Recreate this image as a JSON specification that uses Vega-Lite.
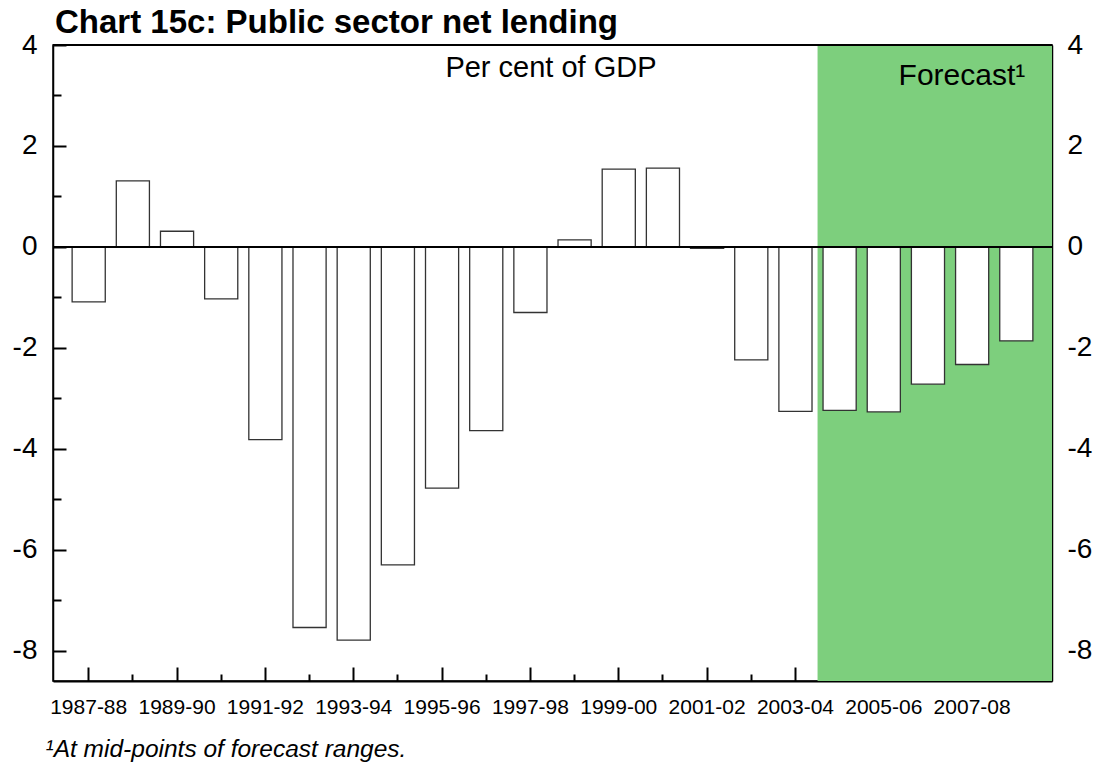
{
  "$schema": "https://vega.github.io/schema/vega-lite/v6.json",
  "width": 999,
  "height": 636,
  "autosize": "none",
  "padding": {"left": 53, "top": 45, "right": 57, "bottom": 83},
  "background": "white",
  "title": {
    "text": "Chart 15c: Public sector net lending",
    "anchor": "start",
    "frame": "group",
    "font": "Liberation Sans",
    "fontSize": 33,
    "fontWeight": "bold",
    "color": "black",
    "baseline": "alphabetic",
    "offset": 8,
    "dx": 2,
    "dy": 43
  },
  "config": {
    "view": {"stroke": "black", "strokeWidth": 1.5},
    "font": "Liberation Sans",
    "axis": {"grid": false, "zindex": 1, "domainColor": "black", "tickColor": "black", "labelColor": "black", "labelFont": "Liberation Sans", "titleFont": "Liberation Sans", "titleColor": "black"}
  },
  "data": {
    "values": [
      {"year": "1987-88", "value": -1.09},
      {"year": "1988-89", "value": 1.31},
      {"year": "1989-90", "value": 0.31},
      {"year": "1990-91", "value": -1.03},
      {"year": "1991-92", "value": -3.82},
      {"year": "1992-93", "value": -7.54},
      {"year": "1993-94", "value": -7.79},
      {"year": "1994-95", "value": -6.30},
      {"year": "1995-96", "value": -4.78},
      {"year": "1996-97", "value": -3.64},
      {"year": "1997-98", "value": -1.30},
      {"year": "1998-99", "value": 0.14},
      {"year": "1999-00", "value": 1.54},
      {"year": "2000-01", "value": 1.56},
      {"year": "2001-02", "value": -0.03},
      {"year": "2002-03", "value": -2.24},
      {"year": "2003-04", "value": -3.26},
      {"year": "2004-05", "value": -3.24},
      {"year": "2005-06", "value": -3.27},
      {"year": "2006-07", "value": -2.72},
      {"year": "2007-08", "value": -2.33},
      {"year": "2008-09", "value": -1.86}
    ]
  },
  "resolve": {"axis": {"x": "independent", "y": "independent"}},
  "layer": [
    {
      "data": {"values": [{"label": "forecast"}]},
      "mark": {"type": "rect", "color": "#7dcf7d"},
      "encoding": {
        "x": {"datum": "2004-05", "type": "ordinal", "bandPosition": -0.166, "axis": null,
              "scale": {"domain": ["1987-88","1988-89","1989-90","1990-91","1991-92","1992-93","1993-94","1994-95","1995-96","1996-97","1997-98","1998-99","1999-00","2000-01","2001-02","2002-03","2003-04","2004-05","2005-06","2006-07","2007-08","2008-09"], "paddingInner": 0.25, "paddingOuter": 0.433}},
        "x2": {"value": {"expr": "width"}},
        "y": {"datum": 4, "type": "quantitative", "axis": null, "scale": {"domain": [-8.6, 4], "nice": false, "zero": false}},
        "y2": {"datum": -8.6}
      }
    },
    {
      "mark": {"type": "bar", "fill": "white", "stroke": "#333333", "strokeWidth": 1.3},
      "encoding": {
        "x": {"field": "year", "type": "ordinal", "sort": null,
              "axis": {"orient": "bottom", "title": "¹At mid-points of forecast ranges.", "titleFontStyle": "italic", "titleFontWeight": "normal", "titleFontSize": 24.5, "titleAnchor": "start", "titleAlign": "left", "titleBaseline": "alphabetic", "titleX": -8, "titleY": 75,
                       "domainWidth": 2, "tickWidth": 2, "labelFontSize": 21, "labelAngle": 0, "labelPadding": 29,
                       "labelExpr": "toNumber(substring(datum.value,0,4)) % 2 == 1 ? datum.label : ''",
                       "tickSize": {"condition": {"test": "toNumber(substring(datum.value,0,4)) % 2 == 1", "value": -14}, "value": -7}}},
        "y": {"field": "value", "type": "quantitative",
              "axis": {"orient": "left", "title": null, "values": [-8,-7,-6,-5,-4,-3,-2,-1,0,1,2,3,4], "domainWidth": 1.5, "tickWidth": 2, "labelFontSize": 28, "labelPadding": 29,
                       "labelExpr": "datum.value % 2 == 0 ? toString(datum.value) : ''",
                       "tickSize": {"condition": {"test": "datum.value % 2 == 0", "value": -13}, "value": -8}}}
      }
    },
    {
      "data": {"values": [{"label": "zero"}]},
      "mark": {"type": "rule", "color": "black", "strokeWidth": 2},
      "encoding": {
        "y": {"datum": 0, "type": "quantitative",
              "axis": {"orient": "right", "title": null, "values": [-8,-7,-6,-5,-4,-3,-2,-1,0,1,2,3,4], "domainWidth": 1.5, "tickWidth": 2, "labelFontSize": 28, "labelPadding": 29,
                       "labelExpr": "datum.value % 2 == 0 ? toString(datum.value) : ''",
                       "tickSize": {"condition": {"test": "datum.value % 2 == 0", "value": -14}, "value": -8}}}
      }
    },
    {
      "data": {"values": [{"label": "top"}]},
      "mark": {"type": "rule", "color": "black", "strokeWidth": 2},
      "encoding": {"y": {"datum": 4, "type": "quantitative", "axis": null}}
    },
    {
      "data": {"values": [{"label": "Per cent of GDP"}]},
      "mark": {"type": "text", "fontSize": 29, "align": "center", "baseline": "alphabetic", "color": "black", "font": "Liberation Sans"},
      "encoding": {
        "x": {"datum": "1997-98", "type": "ordinal", "bandPosition": 1.12, "axis": null},
        "y": {"datum": 3.36, "type": "quantitative", "axis": null},
        "text": {"field": "label"}
      }
    },
    {
      "data": {"values": [{"label": "Forecast¹"}]},
      "mark": {"type": "text", "fontSize": 30, "align": "right", "baseline": "alphabetic", "color": "black", "font": "Liberation Sans"},
      "encoding": {
        "x": {"datum": "2008-09", "type": "ordinal", "bandPosition": 0.77, "axis": null},
        "y": {"datum": 3.2, "type": "quantitative", "axis": null},
        "text": {"field": "label"}
      }
    }
  ]
}
